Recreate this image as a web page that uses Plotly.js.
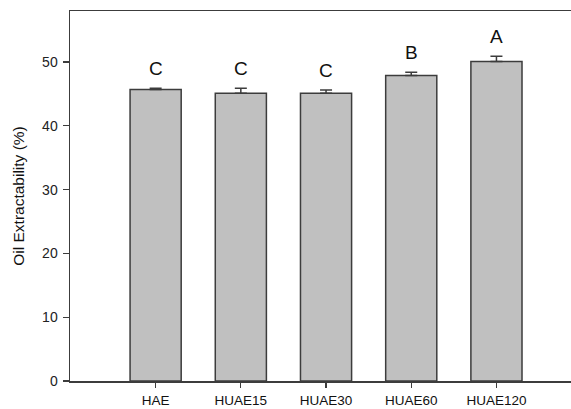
<!DOCTYPE html>
<html>
<head>
<meta charset="utf-8">
<script src="https://cdn.plot.ly/plotly-3.0.1.min.js"></script>
<style>html,body{margin:0;padding:0;background:#fff}#chart{width:571px;height:409px}</style>
</head>
<body>
<div id="chart"></div>
<script>
const categories = ["HAE", "HUAE15", "HUAE30", "HUAE60", "HUAE120"];
const values = [45.7, 45.1, 45.1, 47.9, 50.1];
const errors = [0.2, 0.8, 0.5, 0.5, 0.8];
const letters = ["C", "C", "C", "B", "A"];
const yTicks = [0, 10, 20, 30, 40, 50];

const trace = {
  type: "bar",
  x: categories,
  y: values,
  width: 0.6,
  marker: {color: "#c0c0c0", line: {color: "#3c3c3c", width: 1.5}},
  error_y: {type: "data", symmetric: false, array: errors, arrayminus: errors.map(() => 0),
            color: "#3c3c3c", thickness: 1.5, width: 6},
  hoverinfo: "skip"
};

const annotations = categories.map((c, i) => ({
  x: c, y: values[i] + errors[i], xref: "x", yref: "y",
  text: letters[i], showarrow: false, yanchor: "middle", yshift: 20,
  font: {family: "Liberation Sans, Arial, sans-serif", size: 19, color: "#111"}
}));

const layout = {
  width: 571, height: 409,
  margin: {l: 70, r: 0, t: 11, b: 28},
  paper_bgcolor: "#fff", plot_bgcolor: "#fff",
  showlegend: false,
  font: {family: "Liberation Sans, Arial, sans-serif", color: "#222", size: 12},
  xaxis: {
    type: "category", range: [-1.005, 4.875],
    showline: true, linecolor: "#3c3c3c", linewidth: 1.5, mirror: true,
    ticks: "outside", ticklen: 5, tickwidth: 1.2, tickcolor: "#3c3c3c",
    showgrid: false, zeroline: false, ticklabelstandoff: 1,
    tickfont: {size: 13.5, color: "#111"}
  },
  yaxis: {
    range: [0, 58], tickvals: yTicks,
    showline: true, linecolor: "#3c3c3c", linewidth: 1.5,
    ticks: "outside", ticklen: 6, tickwidth: 1.2, tickcolor: "#3c3c3c",
    showgrid: false, zeroline: false, ticklabelstandoff: 2,
    tickfont: {size: 14, color: "#222"},
    title: {text: "Oil Extractability (%)", font: {size: 15.5, color: "#111"}, standoff: 13}
  },
  annotations: annotations
};

Plotly.newPlot("chart", [trace], layout, {displayModeBar: false, staticPlot: true});
</script>
</body>
</html>
